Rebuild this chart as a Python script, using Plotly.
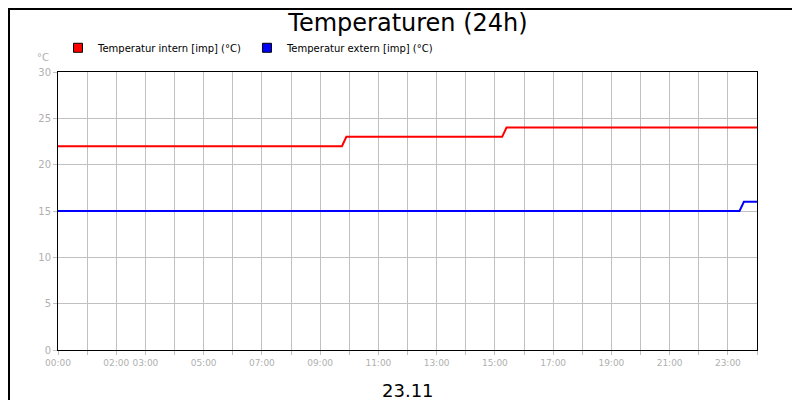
import plotly.graph_objects as go

hours_int = [0, 9.75, 9.9, 15.25, 15.4, 24]
temp_int = [22, 22, 23, 23, 24, 24]
hours_ext = [0, 23.4, 23.55, 24]
temp_ext = [15, 15, 16, 16]
tick_vals = list(range(0, 25))
tick_text = ["00:00", "", "02:00", "03:00", "", "05:00", "", "07:00", "", "09:00", "", "11:00", "",
             "13:00", "", "15:00", "", "17:00", "", "19:00", "", "21:00", "", "23:00", ""]
names = ["Temperatur intern [imp] (°C)", "Temperatur extern [imp] (°C)"]
colors = ["#ff0000", "#0000ff"]

fig = go.Figure()
fig.add_trace(go.Scatter(x=hours_int, y=temp_int, mode="lines", line=dict(color=colors[0], width=2),
                         showlegend=False))
fig.add_trace(go.Scatter(x=hours_ext, y=temp_ext, mode="lines", line=dict(color=colors[1], width=2),
                         showlegend=False))
for n, c in zip(names, colors):
    fig.add_trace(go.Scatter(x=[None], y=[None], mode="markers", name=n,
                             marker=dict(symbol="square", size=9, color=c, line=dict(color="black", width=1))))
fig.update_layout(
    width=800, height=400, paper_bgcolor="white", plot_bgcolor="white",
    margin=dict(l=50, r=51, t=64, b=58, autoexpand=False),
    font=dict(family="DejaVu Sans", size=10, color="black"),
    title=dict(text="Temperaturen (24h)", x=0.5, xanchor="center", y=0.985, yanchor="top",
               font=dict(size=24, family="DejaVu Sans")),
    legend=dict(orientation="h", x=0.0, y=1.035, xanchor="left", yanchor="bottom",
                font=dict(size=10), traceorder="normal", itemwidth=30, tracegroupgap=0),
    xaxis=dict(range=[0, 24], tickvals=tick_vals, ticktext=tick_text, showgrid=True, tickangle=0,
               gridcolor="#c0c0c0", showline=True, linecolor="black", linewidth=1, mirror=True,
               ticks="outside", ticklen=4, tickcolor="#c0c0c0", tickfont=dict(color="#b0b0b0", size=9),
               zeroline=False, automargin=False),
    yaxis=dict(range=[0, 30], dtick=5, showgrid=True, gridcolor="#c0c0c0", showline=True,
               linecolor="black", linewidth=1, mirror=True, ticks="outside", ticklen=4,
               tickcolor="#c0c0c0", tickfont=dict(color="#b0b0b0", size=10), zeroline=False,
               automargin=False),
    annotations=[
        dict(text="23.11", x=0.5, y=-0.1, xref="paper", yref="paper", showarrow=False,
             xanchor="center", yanchor="top", font=dict(size=18, color="black")),
        dict(text="°C", x=-0.01, y=1.025, xref="paper", yref="paper", showarrow=False,
             xanchor="right", yanchor="bottom", font=dict(size=10, color="#b0b0b0")),
    ],
    shapes=[dict(type="rect", xref="paper", yref="paper", x0=-49/699, x1=1+50/699,
                 y0=-57/278, y1=1+63/278, line=dict(color="black", width=2))],
)
fig.write_html("out.html")
